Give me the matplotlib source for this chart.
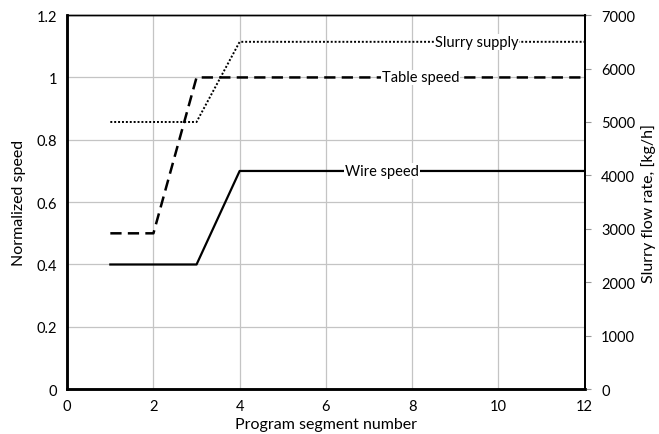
import numpy as np
import matplotlib
matplotlib.use("Agg")
import matplotlib.pyplot as plt
from matplotlib.ticker import FuncFormatter

plt.rcParams["font.family"] = ["Lato", "DejaVu Sans"]

# ---- data ----
wire_x = [1, 3, 4, 12]
wire_y = [0.4, 0.4, 0.7, 0.7]

table_x = [1, 2, 3, 12]
table_y = [0.5, 0.5, 1.0, 1.0]

slurry_x = [1, 3, 4, 12]
slurry_y = [5000, 5000, 6500, 6500]   # kg/h, right axis

# label positions (segment number) along each curve
label_pos = {"Wire speed": 7.3, "Table speed": 8.2, "Slurry supply": 9.5}

fig = plt.figure(figsize=(6.59, 4.35), dpi=100)
ax = fig.add_axes([0.102, 0.103, 0.785, 0.86])
ax2 = ax.twinx()

ax.plot(wire_x, wire_y, color="black", lw=1.6, ls="-", zorder=3)
ax.plot(table_x, table_y, color="black", lw=1.8, ls=(0, (4.5, 2.5)), zorder=3)
ax2.plot(slurry_x, slurry_y, color="black", lw=1.4, ls=(0, (1, 1)), zorder=3)

box = dict(facecolor="white", edgecolor="none", pad=0.5)
ax.text(label_pos["Wire speed"], wire_y[-1], "Wire speed", ha="center", va="center",
        fontsize=10.5, bbox=box, zorder=4)
ax.text(label_pos["Table speed"], table_y[-1], "Table speed", ha="center", va="center",
        fontsize=10.5, bbox=box, zorder=4)
ax2.text(label_pos["Slurry supply"], slurry_y[-1], "Slurry supply", ha="center", va="center",
         fontsize=10.5, bbox=box, zorder=4)

ax.set_xlim(0, 12)
ax.set_ylim(0, 1.2)
ax2.set_ylim(0, 7000)
ax.set_xticks(np.arange(0, 13, 2))
ax.set_yticks(np.arange(0, 1.21, 0.2))
ax2.set_yticks(np.arange(0, 7001, 1000))
ax.yaxis.set_major_formatter(FuncFormatter(lambda v, p: f"{v:g}"))

ax.grid(True, color="#c4c4c4", lw=0.9)
ax.set_axisbelow(True)

for a in (ax, ax2):
    for s in a.spines.values():
        s.set_color("black")
    a.spines["left"].set_linewidth(1.8)
    a.spines["bottom"].set_linewidth(1.8)
    a.spines["right"].set_linewidth(1.3)
    a.spines["top"].set_linewidth(1.0)

ax.tick_params(axis="both", length=0, labelsize=10.5, pad=7)
ax2.tick_params(axis="y", length=4, color="#999999", labelsize=10.5, pad=8)

ax.set_xlabel("Program segment number", fontsize=11.5, labelpad=3)
ax.set_ylabel("Normalized speed", fontsize=11.5, labelpad=8)
ax2.set_ylabel("Slurry flow rate, [kg/h]", fontsize=11.5, labelpad=4)

fig.savefig("out.png", dpi=100)
